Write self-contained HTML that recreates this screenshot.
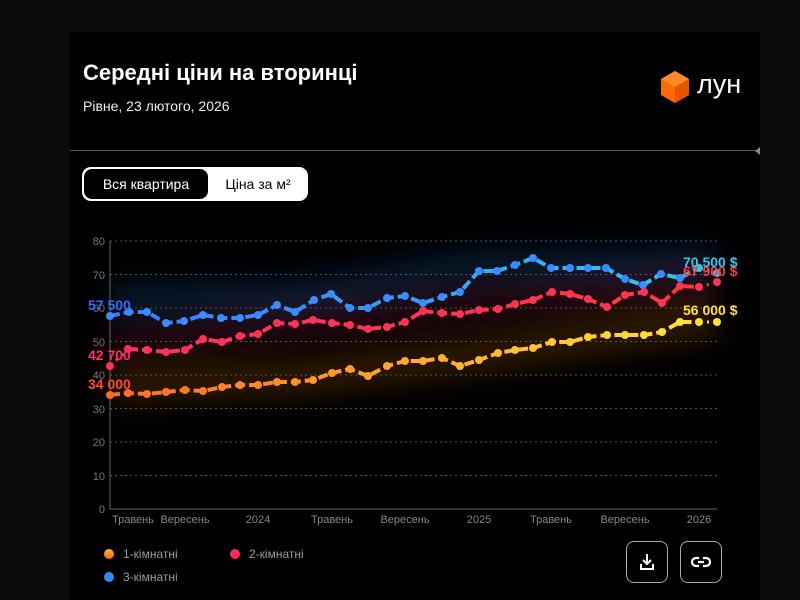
<!DOCTYPE html>
<html><head><meta charset="utf-8"><style>
html,body{margin:0;padding:0;width:800px;height:600px;background:#0a0a0a;overflow:hidden;font-family:"Liberation Sans",sans-serif}
.card{position:absolute;left:70px;top:32px;width:690px;height:568px;background:#000}
.t{position:absolute;left:83px;top:60px;color:#fff;font-weight:bold;font-size:22px}
.s{position:absolute;left:83px;top:98px;color:#eee;font-size:14px}
.hr{position:absolute;left:70px;top:150px;width:688px;height:1px;background:#555}
.tog{position:absolute;left:82px;top:167px;width:226px;height:34px;border-radius:9px;background:#fff}
.tog .a{position:absolute;left:2px;top:2px;width:124px;height:30px;background:#000;border-radius:8px;color:#fff;font-size:14px;line-height:30px;text-align:center}
.tog .b{position:absolute;left:126px;top:0;width:100px;height:34px;color:#000;font-size:14px;line-height:34px;text-align:center}
.lg{position:absolute;font-size:12px;color:#9a9aa6}
.dot{position:absolute;width:10px;height:10px;border-radius:50%}
.btn{position:absolute;top:541px;width:42px;height:42px;border:1px solid #aaa;border-radius:8px;box-sizing:border-box}
</style></head><body>
<div class="card"></div>
<div class="t">Середні ціни на вторинці</div>
<div class="s">Рівне, 23 лютого, 2026</div>
<svg style="position:absolute;left:658px;top:70px" width="34" height="34" viewBox="0 0 34 34"><polygon points="17,1 31,9 31,25 17,33 3,25 3,9" fill="#ff6a00"/><polygon points="17,1 31,9 17,17 3,9" fill="#ff8a2a"/><polygon points="17,17 31,9 31,25 17,33" fill="#e55500"/></svg>
<div style="position:absolute;left:697px;top:69px;color:#fff;font-size:27px">лун</div>
<div class="hr"></div>
<div style="position:absolute;left:755px;top:147px;width:0;height:0;border-top:4px solid transparent;border-bottom:4px solid transparent;border-right:5px solid #888"></div>
<div class="tog"><div class="a">Вся квартира</div><div class="b">Ціна за м²</div></div>
<svg style="position:absolute;left:0;top:0" width="800" height="600">
<defs>
<linearGradient id="gy" x1="0" x2="1"><stop offset="0" stop-color="#ff6a2a"/><stop offset="1" stop-color="#ffe23a"/></linearGradient>
<linearGradient id="gb" x1="0" x2="1"><stop offset="0" stop-color="#3a7bff"/><stop offset="1" stop-color="#2fc8f0"/></linearGradient>
<linearGradient id="gr" x1="0" x2="1"><stop offset="0" stop-color="#ff3070"/><stop offset="1" stop-color="#ff3a3a"/></linearGradient>
<filter id="bl" x="-20%" y="-50%" width="140%" height="200%"><feGaussianBlur stdDeviation="14"/></filter>
</defs>
<g filter="url(#bl)" opacity="0.55">
<polyline fill="none" stroke="#10305a" stroke-width="30" points="110,300 300,295 480,265 717,262"/>
<polyline fill="none" stroke="#4a0a1a" stroke-width="30" points="110,345 300,325 480,305 717,285"/>
<polyline fill="none" stroke="#5a3000" stroke-width="34" points="110,385 300,378 480,355 717,320"/>
</g>
<g stroke="#555" stroke-dasharray="2,3" stroke-width="1">
<line x1="110" x2="717" y1="241" y2="241"/><line x1="110" x2="717" y1="274.5" y2="274.5"/><line x1="110" x2="717" y1="308" y2="308"/><line x1="110" x2="717" y1="341.5" y2="341.5"/><line x1="110" x2="717" y1="375" y2="375"/><line x1="110" x2="717" y1="408.5" y2="408.5"/><line x1="110" x2="717" y1="442" y2="442"/><line x1="110" x2="717" y1="475.5" y2="475.5"/>
</g>
<line x1="110" y1="241" x2="110" y2="509" stroke="#666"/><line x1="110" y1="509" x2="717" y2="509" stroke="#666"/>
<g fill="#777" font-size="11" text-anchor="end">
<text x="105" y="245">80</text><text x="105" y="279">70</text><text x="105" y="312">60</text><text x="105" y="346">50</text><text x="105" y="379">40</text><text x="105" y="413">30</text><text x="105" y="446">20</text><text x="105" y="480">10</text><text x="105" y="513">0</text>
</g>
<g fill="#888" font-size="11" text-anchor="middle">
<text x="133" y="523">Травень</text><text x="185" y="523">Вересень</text><text x="258" y="523">2024</text><text x="332" y="523">Травень</text><text x="405" y="523">Вересень</text><text x="479" y="523">2025</text><text x="551" y="523">Травень</text><text x="625" y="523">Вересень</text><text x="699" y="523">2026</text>
</g>
<g fill="none" stroke-width="4" stroke-dasharray="10,4" stroke-linejoin="round">
<polyline stroke="url(#gb)" points="110,316 129,312 147,312 166,323 184,321 203,315 221,318 240,318 258,315 277,305 295,312 314,300 331,294 350,308 368,308 387,298 405,296 423,303 442,297 460,292 479,271 497,271 515,265 533,258 551,268 570,268 588,268 606,268 625,279 643,285 661,274 680,278 699,268"/>
<polyline stroke="url(#gr)" points="128,349 147,350 166,352 185,350 203,339 222,342 240,336 258,334 277,323 295,324 313,320 332,323 350,325 368,329 387,327 405,322 423,311 442,313 460,314 479,310 498,309 515,304 533,300 552,292 570,294 588,299 607,307 625,295 644,292 662,303 680,286 699,287"/>
<polyline stroke="url(#gy)" points="110,395 128,393 147,394 166,392 185,390 203,391 222,387 240,385 258,385 277,382 295,382 313,380 332,373 350,369 368,376 387,366 405,361 423,361 442,358 460,366 479,360 498,353 515,350 533,348 552,342 570,342 588,337 607,335 625,335 644,335 662,332 680,322 699,322"/>
</g>
<g stroke-width="3" stroke-dasharray="2,6" fill="none"><line x1="699" y1="268" x2="717" y2="273" stroke="#2fc8f0"/><line x1="699" y1="287" x2="717" y2="282" stroke="#ff3a3a"/><line x1="699" y1="322" x2="717" y2="322" stroke="#ffe23a"/><line x1="110" y1="366" x2="128" y2="349" stroke="#ff3070"/></g>
<g fill="#3a8bff"><circle cx="110" cy="316" r="4"/><circle cx="129" cy="312" r="4"/><circle cx="147" cy="312" r="4"/><circle cx="166" cy="323" r="4"/><circle cx="184" cy="321" r="4"/><circle cx="203" cy="315" r="4"/><circle cx="221" cy="318" r="4"/><circle cx="240" cy="318" r="4"/><circle cx="258" cy="315" r="4"/><circle cx="277" cy="305" r="4"/><circle cx="295" cy="312" r="4"/><circle cx="314" cy="300" r="4"/><circle cx="331" cy="294" r="4"/><circle cx="350" cy="308" r="4"/><circle cx="368" cy="308" r="4"/><circle cx="387" cy="298" r="4"/><circle cx="405" cy="296" r="4"/><circle cx="423" cy="303" r="4"/><circle cx="442" cy="297" r="4"/><circle cx="460" cy="292" r="4"/><circle cx="479" cy="271" r="4"/><circle cx="497" cy="271" r="4"/><circle cx="515" cy="265" r="4"/><circle cx="533" cy="258" r="4"/><circle cx="551" cy="268" r="4"/><circle cx="570" cy="268" r="4"/><circle cx="588" cy="268" r="4"/><circle cx="606" cy="268" r="4"/><circle cx="625" cy="279" r="4"/><circle cx="643" cy="285" r="4"/><circle cx="661" cy="274" r="4"/><circle cx="680" cy="278" r="4"/><circle cx="699" cy="268" r="4" fill="#2fc8f0"/><circle cx="717" cy="273" r="4" fill="#2fc8f0"/></g>
<g fill="#ff3355"><circle cx="110" cy="366" r="4"/><circle cx="128" cy="349" r="4"/><circle cx="147" cy="350" r="4"/><circle cx="166" cy="352" r="4"/><circle cx="185" cy="350" r="4"/><circle cx="203" cy="339" r="4"/><circle cx="222" cy="342" r="4"/><circle cx="240" cy="336" r="4"/><circle cx="258" cy="334" r="4"/><circle cx="277" cy="323" r="4"/><circle cx="295" cy="324" r="4"/><circle cx="313" cy="320" r="4"/><circle cx="332" cy="323" r="4"/><circle cx="350" cy="325" r="4"/><circle cx="368" cy="329" r="4"/><circle cx="387" cy="327" r="4"/><circle cx="405" cy="322" r="4"/><circle cx="423" cy="311" r="4"/><circle cx="442" cy="313" r="4"/><circle cx="460" cy="314" r="4"/><circle cx="479" cy="310" r="4"/><circle cx="498" cy="309" r="4"/><circle cx="515" cy="304" r="4"/><circle cx="533" cy="300" r="4"/><circle cx="552" cy="292" r="4"/><circle cx="570" cy="294" r="4"/><circle cx="588" cy="299" r="4"/><circle cx="607" cy="307" r="4"/><circle cx="625" cy="295" r="4"/><circle cx="644" cy="292" r="4"/><circle cx="662" cy="303" r="4"/><circle cx="680" cy="286" r="4"/><circle cx="699" cy="287" r="4"/><circle cx="717" cy="282" r="4"/></g>
<g><circle cx="110" cy="395" r="4" fill="#ff6a2a"/><circle cx="128" cy="393" r="4" fill="#ff6d2a"/><circle cx="147" cy="394" r="4" fill="#ff702a"/><circle cx="166" cy="392" r="4" fill="#ff742a"/><circle cx="185" cy="390" r="4" fill="#ff782a"/><circle cx="203" cy="391" r="4" fill="#ff7c2a"/><circle cx="222" cy="387" r="4" fill="#ff802a"/><circle cx="240" cy="385" r="4" fill="#ff842b"/><circle cx="258" cy="385" r="4" fill="#ff882b"/><circle cx="277" cy="382" r="4" fill="#ff8c2c"/><circle cx="295" cy="382" r="4" fill="#ff902c"/><circle cx="313" cy="380" r="4" fill="#ff942d"/><circle cx="332" cy="373" r="4" fill="#ff982d"/><circle cx="350" cy="369" r="4" fill="#ff9c2e"/><circle cx="368" cy="376" r="4" fill="#ffa02e"/><circle cx="387" cy="366" r="4" fill="#ffa42f"/><circle cx="405" cy="361" r="4" fill="#ffa82f"/><circle cx="423" cy="361" r="4" fill="#ffac30"/><circle cx="442" cy="358" r="4" fill="#ffb030"/><circle cx="460" cy="366" r="4" fill="#ffb431"/><circle cx="479" cy="360" r="4" fill="#ffb831"/><circle cx="498" cy="353" r="4" fill="#ffbc32"/><circle cx="515" cy="350" r="4" fill="#ffc032"/><circle cx="533" cy="348" r="4" fill="#ffc433"/><circle cx="552" cy="342" r="4" fill="#ffc833"/><circle cx="570" cy="342" r="4" fill="#ffcc34"/><circle cx="588" cy="337" r="4" fill="#ffd034"/><circle cx="607" cy="335" r="4" fill="#ffd435"/><circle cx="625" cy="335" r="4" fill="#ffd835"/><circle cx="644" cy="335" r="4" fill="#ffdc36"/><circle cx="662" cy="332" r="4" fill="#ffe037"/><circle cx="680" cy="322" r="4" fill="#ffe23a"/><circle cx="699" cy="322" r="4" fill="#ffe23a"/><circle cx="717" cy="322" r="4" fill="#ffe23a"/></g>
<g font-size="14" font-weight="bold">
<text x="88" y="310" fill="#3a6bff">57 500</text>
<text x="88" y="360" fill="#ff3060">42 700</text>
<text x="88" y="389" fill="#ff4a2a">34 000</text>
<text x="683" y="276" fill="#ff3a3a">67 900 $</text>
<text x="683" y="267" fill="#2fc8f0">70 500 $</text>
<text x="683" y="315" fill="#ffe23a">56 000 $</text>
</g>
</svg>
<div class="dot" style="left:104px;top:549px;background:linear-gradient(#ffb020,#ff6a10)"></div><div class="lg" style="left:123px;top:547px">1-кімнатні</div>
<div class="dot" style="left:230px;top:549px;background:#ff2a55"></div><div class="lg" style="left:249px;top:547px">2-кімнатні</div>
<div class="dot" style="left:104px;top:572px;background:#2f8bff"></div><div class="lg" style="left:123px;top:570px">3-кімнатні</div>
<div class="btn" style="left:626px"><svg width="40" height="40" viewBox="0 0 40 40" fill="none" stroke="#fff" stroke-width="2"><path d="M20 12v10M16 18l4 4 4-4M14 22v5h12v-5"/></svg></div>
<div class="btn" style="left:680px"><svg width="40" height="40" viewBox="0 0 40 40" fill="none" stroke="#fff" stroke-width="2.2"><path d="M18 16h-3a4 4 0 0 0 0 8h3M22 16h3a4 4 0 0 1 0 8h-3M17 20h6"/></svg></div>
</body></html>
